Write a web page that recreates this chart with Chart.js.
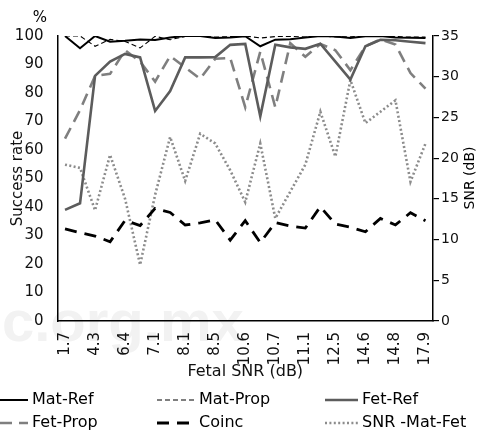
<!DOCTYPE html>
<html>
<head>
<meta charset="utf-8">
<script src="https://cdn.jsdelivr.net/npm/chart.js@4.4.1/dist/chart.umd.min.js"></script>
<style>
  html, body { margin: 0; padding: 0; background: #fff; }
</style>
</head>
<body>
<canvas id="graphique" width="481" height="432"></canvas>
<script>
// Fetal SNR (dB) for each recording; only every other one is labelled on the axis
const categories = ["1.7", "3.1", "4.3", "5.5", "6.4", "6.9", "7.1", "7.6", "8.1", "8.3",
  "8.5", "9.8", "10.6", "10.65", "10.7", "10.9", "11.1", "11.8", "12.5", "13.6",
  "14.6", "14.7", "14.8", "16.2", "17.9"];

// success rates (%)
const matRef = [100, 95.7, 100, 98, 98.3, 98.8, 98.6, 99.5, 100, 100,
  99.3, 99.5, 99.9, 96.4, 98.7, 98.9, 99.5, 100, 99.8, 99.3,
  99.9, 100, 99.5, 99.4, 99.3];
const matProp = [100, 100, 96.4, 98.8, 98.1, 95.8, 99.9, 98.7, 99.8, 100,
  99.6, 99.8, 100, 99.3, 99.8, 99.8, 100, 100, 99.7, 99.7,
  100, 100, 99.8, 99.6, 99.6];
const fetRef = [39, 41.3, 86, 91, 93.7, 92.5, 73.7, 80.7, 92.5, 92.5,
  92.6, 96.9, 97.2, 71.8, 96.9, 96, 95.5, 97.3, 91, 84.7,
  96.4, 98.7, 98.5, 98, 97.5];
const fetProp = [64, 74, 86, 86.7, 95, 91, 84, 93, 89, 85,
  92, 92.3, 75, 94.5, 75, 97.5, 92.7, 97.2, 95, 88,
  96.4, 98.8, 97, 87, 81.5];
const coinc = [32.3, 31, 29.8, 27.8, 35.3, 33.5, 39.5, 38.1, 33.7, 34.4,
  35.5, 28.4, 35.2, 27.5, 34.5, 33.3, 32.6, 40.1, 34, 32.9,
  31.3, 36, 33.7, 38, 35.2];

// SNR maternal - fetal (dB), right axis
const snrMatFet = [19.2, 18.8, 13.6, 20.4, 15, 6.9, 15.5, 22.6, 17.2, 23,
  21.8, 18.5, 14.6, 21.8, 12.6, 15.9, 19.2, 25.7, 20.2, 29.6,
  24.3, 25.7, 27.1, 17.1, 21.8];

const police = "DejaVu Sans";

// textes hors axes : "%", titre de droite, légende, filigrane
const decor = {
  id: "decor",
  beforeDraw(chart) {
    const c = chart.ctx;
    c.save();
    c.fillStyle = "#f2f2f2";
    c.font = "bold 58px 'Liberation Sans'";
    c.textBaseline = "alphabetic";
    c.fillText("c.org.mx", 2, 341);
    c.restore();
  },
  afterDraw(chart) {
    const c = chart.ctx;
    c.save();
    c.fillStyle = "#000";
    c.font = "15px '" + police + "'";
    c.textAlign = "center";
    c.textBaseline = "middle";
    c.fillText("%", 40, 18);

    c.save();
    c.translate(470, 178);
    c.rotate(-Math.PI / 2);
    c.font = "14px '" + police + "'";
    c.fillText("SNR (dB)", 0, 0);
    c.restore();

    // légende sur trois colonnes
    const cols = [[0, 28], [157, 195], [325, 358]];
    const rows = [400, 423];
    c.font = "16px '" + police + "'";
    c.textAlign = "left";
    chart.data.datasets.forEach((ds, i) => {
      const [x0, x1] = cols[i % 3];
      const y = rows[Math.floor(i / 3)];
      c.save();
      c.strokeStyle = ds.borderColor;
      c.lineWidth = ds.borderWidth;
      c.setLineDash(ds.borderDash || []);
      c.beginPath();
      c.moveTo(x0, y);
      c.lineTo(x1, y);
      c.stroke();
      c.restore();
      c.fillStyle = "#000";
      c.fillText(ds.label, x1 + 4, y);
    });
    c.restore();
  }
};

const ligne = (label, data, color, width, dash, axis) => ({
  label: label,
  data: data,
  yAxisID: axis || "y",
  borderColor: color,
  backgroundColor: color,
  borderWidth: width,
  borderDash: dash,
  pointRadius: 0,
  tension: 0,
  fill: false
});

new Chart(document.getElementById("graphique"), {
  type: "line",
  data: {
    labels: categories,
    datasets: [
      ligne("Mat-Ref", matRef, "#000000", 2, []),
      ligne("Mat-Prop", matProp, "#000000", 1.1, [5, 3]),
      ligne("Fet-Ref", fetRef, "#5c5c5c", 2.6, []),
      ligne("Fet-Prop", fetProp, "#7f7f7f", 2.6, [12, 7]),
      ligne("Coinc", coinc, "#000000", 2.8, [12, 8]),
      ligne("SNR -Mat-Fet", snrMatFet, "#8c8c8c", 2.6, [2, 2.4], "y1")
    ]
  },
  options: {
    responsive: false,
    devicePixelRatio: 1,
    animation: false,
    layout: { padding: { top: 36, right: 0, bottom: 49, left: 0 } },
    plugins: {
      legend: { display: false },
      tooltip: { enabled: false }
    },
    scales: {
      x: {
        type: "category",
        offset: true,
        grid: { display: false },
        border: { display: true, color: "#000", width: 1.5 },
        ticks: {
          autoSkip: false,
          maxRotation: 90,
          minRotation: 90,
          padding: 3,
          color: "#111",
          font: { family: police, size: 15 },
          callback: (v, i) => (i % 2 === 0 ? categories[i] : "")
        },
        title: {
          display: true,
          text: "Fetal SNR (dB)",
          color: "#111",
          font: { family: police, size: 16 },
          padding: { top: 2, bottom: 2 }
        },
        afterFit: (s) => { s.height = 62; }
      },
      y: {
        position: "left",
        min: 0,
        max: 100,
        grid: { display: false },
        border: { display: true, color: "#000", width: 1.5 },
        ticks: {
          stepSize: 10,
          padding: 6,
          color: "#111",
          font: { family: police, size: 15 }
        },
        title: {
          display: true,
          text: "Success rate",
          color: "#111",
          font: { family: police, size: 15 },
          padding: { top: 9, bottom: 0 }
        },
        afterFit: (s) => { s.width = 57.5; }
      },
      y1: {
        position: "right",
        min: 0,
        max: 35,
        grid: {
          display: true,
          drawOnChartArea: false,
          drawTicks: true,
          tickLength: 6,
          color: "#000",
          lineWidth: 1.2
        },
        border: { display: true, color: "#000", width: 1.5 },
        ticks: {
          stepSize: 5,
          padding: 2,
          color: "#111",
          font: { family: police, size: 14 }
        },
        afterFit: (s) => { s.width = 48; }
      }
    }
  },
  plugins: [decor]
});
</script>
</body>
</html>
